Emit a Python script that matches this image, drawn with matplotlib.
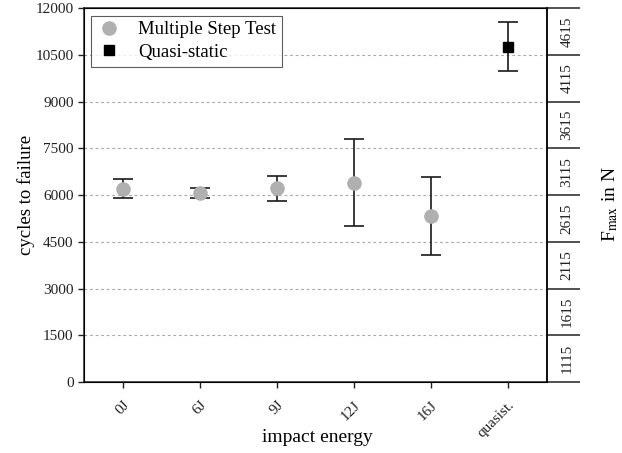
import matplotlib.pyplot as plt
from matplotlib.lines import Line2D
from matplotlib.ticker import FixedLocator, NullFormatter

plt.rcParams['font.family'] = ['Liberation Serif', 'DejaVu Serif']
plt.rcParams['mathtext.fontset'] = 'stix'

# impact energy groups and measured cycles to failure
energies = ['0J', '6J', '9J', '12J', '16J']
step_mean = [6200, 6060, 6220, 6400, 5330]
step_err = [300, 160, 400, 1400, 1240]

quasi_label = ['quasist.']
quasi_mean = [10760]
quasi_err = [780]

# force levels labelled on the right axis
fmax_labels = ['1115', '1615', '2115', '2615', '3115', '3615', '4115', '4615']

fig = plt.figure(figsize=(6.22, 4.53), dpi=100)
ax = fig.add_axes([0.135, 0.1567, 0.744, 0.8256])

x_step = list(range(len(energies)))
x_quasi = [len(energies)]

ax.errorbar(x_step, step_mean, yerr=step_err, fmt='o', color='#b0b0b0',
            markersize=9.5, ecolor='#1a1a1a', elinewidth=1.2, capsize=7,
            capthick=1.2, zorder=3)
ax.errorbar(x_quasi, quasi_mean, yerr=quasi_err, fmt='s', color='black',
            markersize=7, ecolor='#1a1a1a', elinewidth=1.2, capsize=7,
            capthick=1.2, zorder=3)

ax.set_xlim(-0.5, 5.5)
ax.set_ylim(0, 12000)
yt = list(range(0, 12001, 1500))
ax.set_yticks(yt)
ax.set_xticks(x_step + x_quasi)
ax.set_xticklabels(energies + quasi_label, rotation=45, ha='right',
                   rotation_mode='anchor')
ax.tick_params(axis='both', direction='out', length=4, width=1, labelsize=11,
               colors='#222222')
ax.tick_params(axis='x', pad=8)
for y in yt[1:-1]:
    ax.axhline(y, color='#a8a8a8', linestyle=(0, (2.5, 2.5)), linewidth=0.8,
               zorder=1)
for s in ax.spines.values():
    s.set_linewidth(1.1)
    s.set_color('#222222')

ax.set_xlabel('impact energy', fontsize=14)
ax.xaxis.set_label_coords(0.505, -0.125)
ax.set_ylabel('cycles to failure', fontsize=13.5, labelpad=0)

handles = [
    Line2D([], [], marker='o', color='#b0b0b0', linestyle='none', markersize=9.5),
    Line2D([], [], marker='s', color='black', linestyle='none', markersize=7),
]
leg = ax.legend(handles, ['Multiple Step Test', 'Quasi-static'],
                loc='upper left', fontsize=13.5, frameon=True, fancybox=False,
                edgecolor='#333333', borderaxespad=0.4, handlelength=1.3,
                handletextpad=0.9, borderpad=0.3, labelspacing=0.3)
leg.get_frame().set_linewidth(0.8)

# second axis with force levels between the long ticks
ax2 = ax.twinx()
ax2.set_ylim(0, 12000)
ax2.set_yticks(yt)
ax2.yaxis.set_major_formatter(NullFormatter())
ax2.yaxis.set_minor_locator(FixedLocator([y + 750 for y in yt[:-1]]))
ax2.set_yticklabels(fmax_labels, minor=True)
ax2.tick_params(axis='y', which='major', direction='out', length=24, width=1.1,
                colors='#222222')
ax2.tick_params(axis='y', which='minor', length=0, pad=10, labelsize=11,
                labelrotation=90, colors='#222222')
for lbl in ax2.get_yticklabels(minor=True):
    lbl.set_va('center')
ax2.spines['right'].set_linewidth(1.1)

fig.text(0.997, 0.55, r'F$_{\mathrm{max}}$ in N', rotation=90, fontsize=14,
         ha='right', va='center')

fig.savefig('out.png', dpi=100)
